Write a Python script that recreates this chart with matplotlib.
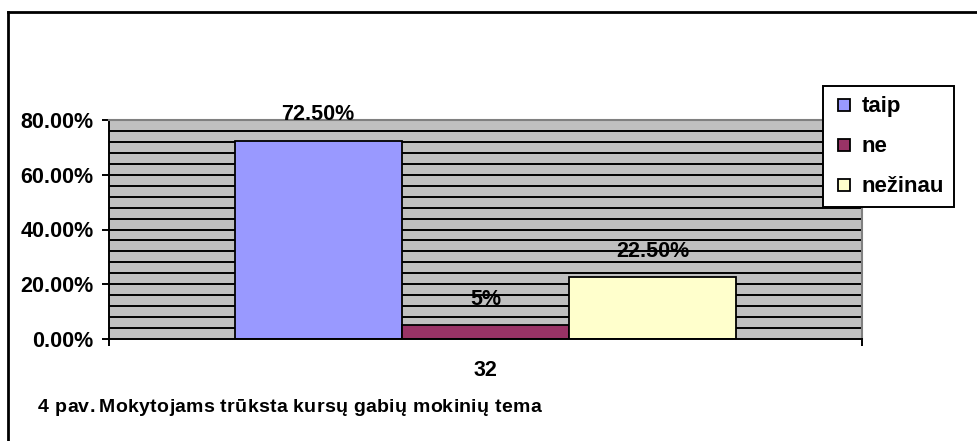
import matplotlib
matplotlib.use("Agg")
import matplotlib.pyplot as plt
from matplotlib.lines import Line2D

plt.rcParams['font.family'] = ['Liberation Sans', 'DejaVu Sans']
plt.rcParams['font.weight'] = 'bold'

category = ["32"]
series = ["taip", "ne", "nežinau"]
values = [72.5, 5.0, 22.5]
value_labels = ["72.50%", "5%", "22.50%"]
colors = ["#9999FF", "#993366", "#FFFFCC"]
yticks = [0, 20, 40, 60, 80]
ytick_labels = ["0.00%", "20.00%", "40.00%", "60.00%", "80.00%"]
caption = "4 pav. Mokytojams trūksta kursų gabių mokinių tema"

W, H = 978, 441
fig = plt.figure(figsize=(W / 100, H / 100), dpi=100)
fig.patch.set_facecolor("white")

# outer frame (left and top visible)
fig.add_artist(Line2D([8 / W, 8 / W], [0, 1 - 12 / H], transform=fig.transFigure, color="black", lw=2))
fig.add_artist(Line2D([8 / W, 1], [1 - 12 / H, 1 - 12 / H], transform=fig.transFigure, color="black", lw=2))

L, R, T, B = 109, 862, 120, 339
ax = fig.add_axes([L / W, 1 - B / H, (R - L) / W, (B - T) / H])
ax.set_facecolor("#C0C0C0")
ax.set_xlim(-0.5, 0.5)
ax.set_ylim(0, 80)

# minor gridlines every 4%
for g in range(4, 80, 4):
    ax.axhline(g, color="black", lw=1.4, zorder=1)

n = len(series)
w = 1.0 / (n + 1.5)
for i, (s, v, c, lab) in enumerate(zip(series, values, colors, value_labels)):
    x = (i - (n - 1) / 2) * w
    ax.bar(x, v, width=w, color=c, edgecolor="black", lw=1.3, zorder=2, label=s)
    ax.annotate(lab, (x, v), xytext=(0, 18.5), textcoords="offset points",
                ha="center", va="center", fontsize=15.5, fontweight="bold",
                annotation_clip=False, zorder=5)

for side in ["top", "right"]:
    ax.spines[side].set_color("#808080")
    ax.spines[side].set_linewidth(1.5)
for side in ["left", "bottom"]:
    ax.spines[side].set_color("black")
    ax.spines[side].set_linewidth(1.4)

ax.set_yticks(yticks)
ax.set_yticklabels(ytick_labels, fontsize=15.5, fontweight="bold")
ax.tick_params(axis="y", direction="out", length=5, width=1.4, pad=6)
ax.set_xticks([-0.5, 0.5])
ax.set_xticklabels(["", ""])
ax.tick_params(axis="x", direction="out", length=5, width=1.4)
ax.text(0, -0.145, category[0], transform=ax.get_xaxis_transform(),
        ha="center", va="center", fontsize=15.5, fontweight="bold")

handles = [Line2D([], [], marker="s", markersize=8.5, linestyle="none",
                  markerfacecolor=c, markeredgecolor="black", markeredgewidth=1.3)
           for c in colors]
leg = fig.legend(handles, series, loc="upper left",
                 bbox_to_anchor=(823 / W, 1 - 86 / H), borderaxespad=0,
                 frameon=True, fancybox=False, edgecolor="black", framealpha=1,
                 prop={"size": 16, "weight": "bold"},
                 handlelength=1.0, handleheight=0.45, handletextpad=0.3,
                 labelspacing=0.85, borderpad=0.45)
leg.get_frame().set_linewidth(1.4)

# caption with widened letter spacing
fig.canvas.draw()
renderer = fig.canvas.get_renderer()
cap_size = 14
x0, x1, ycap = 38, 541, 1 - 408 / H
probe = fig.text(0, 0, caption, fontsize=cap_size, fontweight="bold")
nat_w = probe.get_window_extent(renderer).width
probe.remove()
extra = (x1 - x0 - nat_w) / (len(caption) - 1)
for i, ch in enumerate(caption):
    if i == 0:
        pre_w = 0.0
    else:
        t = fig.text(0, 0, caption[:i] + "|", fontsize=cap_size, fontweight="bold")
        tb = fig.text(0, 0, "|", fontsize=cap_size, fontweight="bold")
        pre_w = t.get_window_extent(renderer).width - tb.get_window_extent(renderer).width
        t.remove(); tb.remove()
    if ch != " ":
        fig.text((x0 + pre_w + i * extra) / W, ycap, ch, ha="left", va="center",
                 fontsize=cap_size, fontweight="bold")

fig.savefig("out.png", dpi=100)
